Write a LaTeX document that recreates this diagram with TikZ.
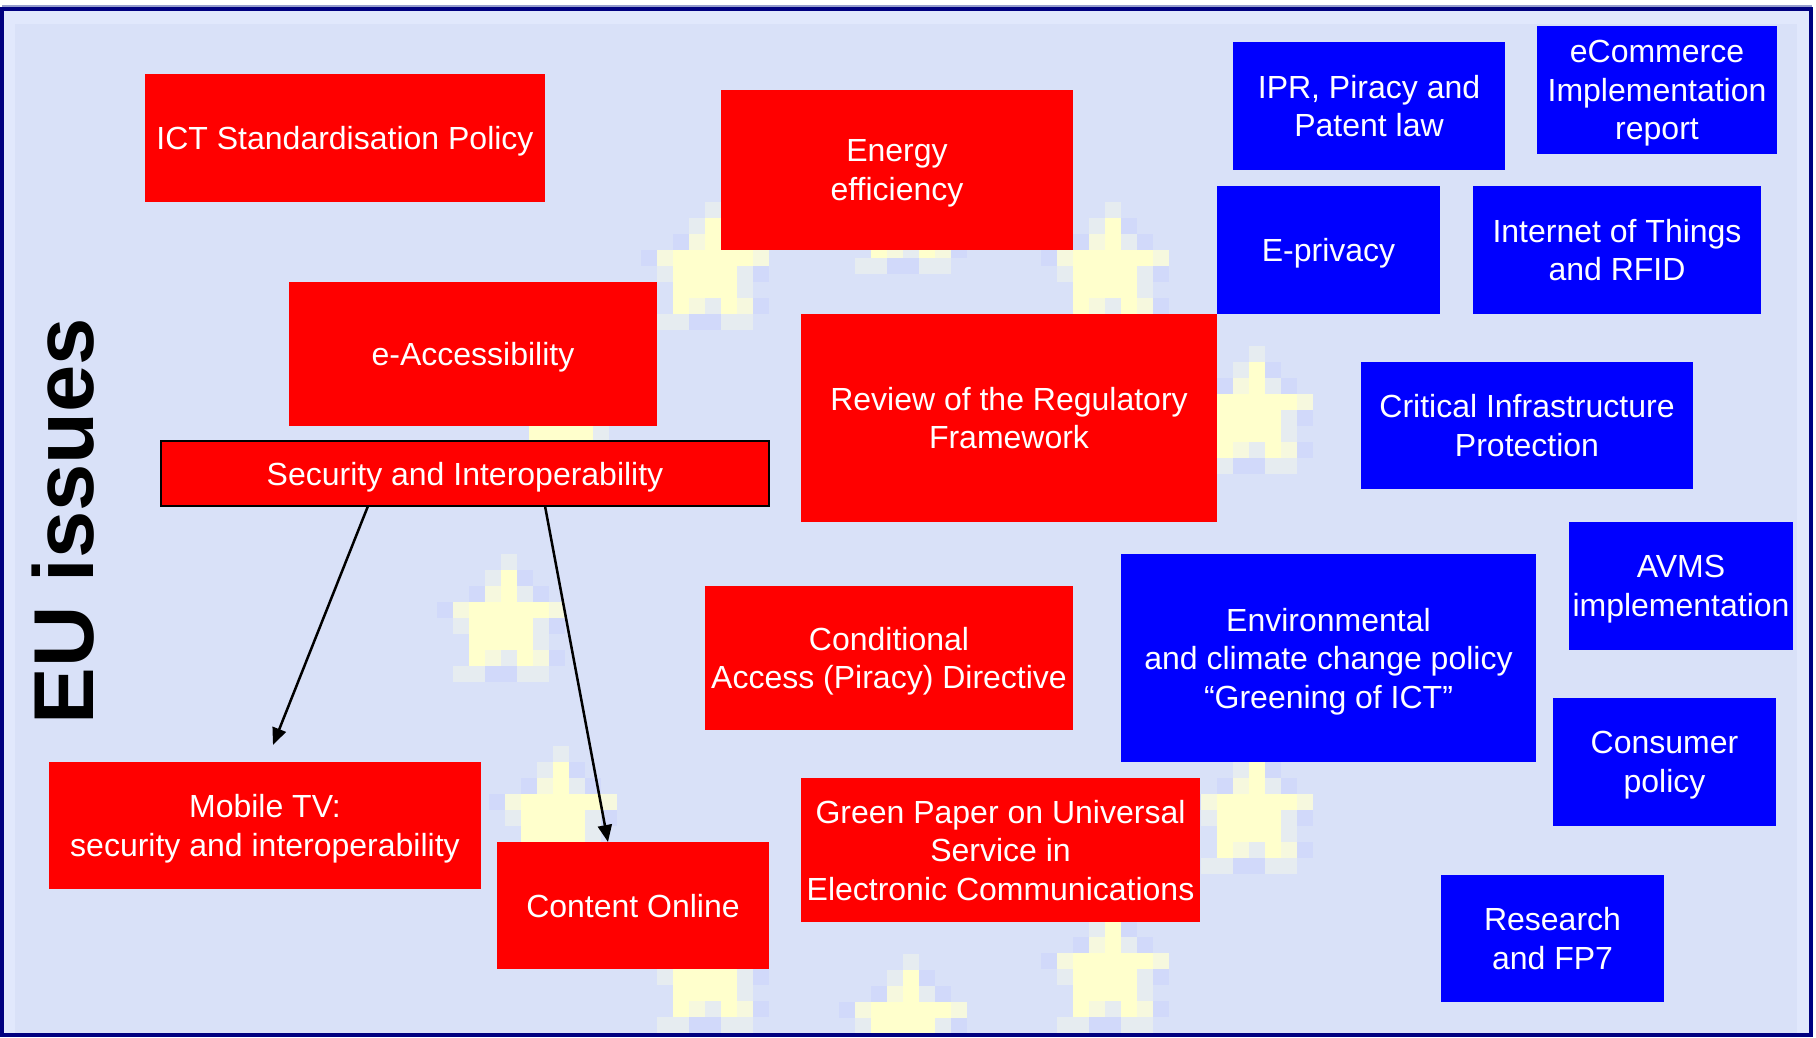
\documentclass[tikz,border=0pt]{standalone}
\usepackage{fontspec}
\setmainfont{Liberation Sans}
\usetikzlibrary{arrows.meta,calc}
\definecolor{bgl}{RGB}{217,225,248}
\definecolor{bgedge}{RGB}{225,232,252}
\definecolor{navyframe}{RGB}{0,0,128}
\definecolor{shadowline}{RGB}{150,158,205}
\definecolor{st0}{RGB}{209,217,250}
\definecolor{st1}{RGB}{230,236,240}
\definecolor{st2}{RGB}{246,248,222}
\definecolor{st3}{RGB}{255,255,204}
\definecolor{boxred}{RGB}{255,0,0}
\definecolor{boxblue}{RGB}{0,0,255}
% last line without descender depth, so text is centred on cap height
\newcommand{\nodesc}[1]{\raisebox{0pt}[\height][0pt]{#1}}
\tikzset{
  lbl/.style={font=\fontsize{32}{38.5}\selectfont, text=white, align=center, inner sep=0pt, outer sep=0pt},
  redbox/.style={lbl, fill=boxred},
  bluebox/.style={lbl, fill=boxblue},
  conn/.style={draw=black, line width=2.5pt, -{Triangle[length=17pt,width=14pt]}},
  pics/eustar/.style={code={
    \foreach \cc/\rr/\kk in {-2/-1/0, 2/-1/0, -4/0/0, 3/1/0, -1/4/0, 0/4/0, 3/3/0, 1/-2/0,
      0/-3/1, -1/-2/1, 0/-2/3, -1/-1/2, 0/-1/3, 1/-1/1,
      -3/0/2, -2/0/3, -1/0/3, 0/0/3, 1/0/3, 2/0/3, 3/0/2,
      -3/1/1, -2/1/3, -1/1/3, 0/1/3, 1/1/3, 2/1/1,
      -2/2/3, -1/2/3, 0/2/3, 1/2/3, 2/2/1,
      -2/3/3, -1/3/2, 0/3/1, 1/3/3, 2/3/2,
      -3/4/1, -2/4/1, 1/4/1, 2/4/1}
      {\fill[st\kk] (\cc*16-8,\rr*16) rectangle ++(16,16);}
  }}
}
\begin{document}
\begin{tikzpicture}[x=1pt,y=-1pt]
\useasboundingbox (0,0) rectangle (1816,1038);
% background and frame
\fill[white] (0,0) rectangle (1816,1038);
\fill[bgedge] (3,10) rectangle (1810,1034);
\fill[bgl] (15,24) rectangle (1797,1034);
\begin{scope}
  \clip (4,11) rectangle (1809,1033);
  \foreach \sx/\sy in {713/250, 1113/250, 1257/394, 1313/602, 1257/794, 1113/953,
                       911/1002, 713/953, 561/794, 509/602, 569/394, 911/194}
    {\pic at (\sx,\sy) {eustar};}
\end{scope}
\draw[shadowline, line width=2pt] (2,6) -- (1812,6);
\draw[navyframe, line width=4pt] (2,9) rectangle (1811,1035);

% title
\node[rotate=90, font=\bfseries\fontsize{85}{100}\selectfont, inner sep=0pt] (eu) at (63,521) {EU issues};

% red boxes
\node[redbox, minimum width=400, minimum height=128] (ict) at (345,138) {\nodesc{ICT Standardisation Policy}};
\node[redbox, minimum width=352, minimum height=160] (ene) at (897,170) {Energy\\\nodesc{efficiency}};
\node[redbox, minimum width=368, minimum height=144] (eac) at (473,354) {\nodesc{e-Accessibility}};
\node[redbox, draw=black, line width=2.5pt, minimum width=608, minimum height=65] (sec) at (465,473.5) {\nodesc{Security and Interoperability}};
\node[redbox, minimum width=416, minimum height=208] (rev) at (1009,418) {Review of the Regulatory\\\nodesc{Framework}};
\node[redbox, minimum width=368, minimum height=144] (cad) at (889,658) {Conditional\\\nodesc{Access (Piracy) Directive}};
\node[redbox, minimum width=432, minimum height=127] (mob) at (265,825.5) {Mobile TV:\\\nodesc{security and interoperability}};
\node[redbox, minimum width=272, minimum height=127] (con) at (633,905.5) {\nodesc{Content Online}};
\node[redbox, minimum width=399, minimum height=144] (grp) at (1000.5,850) {Green Paper on Universal\\Service in\\\nodesc{Electronic Communications}};

% blue boxes
\node[bluebox, minimum width=272, minimum height=128] (ipr) at (1369,106) {IPR, Piracy and\\\nodesc{Patent law}};
\node[bluebox, minimum width=240, minimum height=128] (eco) at (1657,90) {eCommerce\\Implementation\\\nodesc{report}};
\node[bluebox, minimum width=223, minimum height=128] (epr) at (1328.5,250) {\nodesc{E-privacy}};
\node[bluebox, minimum width=288, minimum height=128] (iot) at (1617,250) {Internet of Things\\\nodesc{and RFID}};
\node[bluebox, minimum width=332, minimum height=127] (cip) at (1527,425.5) {Critical Infrastructure\\\nodesc{Protection}};
\node[bluebox, minimum width=224, minimum height=128] (avm) at (1681,586) {AVMS\\\nodesc{implementation}};
\node[bluebox, minimum width=415, minimum height=208] (env) at (1328.5,658) {Environmental\\and climate change policy\\\nodesc{“Greening of ICT”}};
\node[bluebox, minimum width=223, minimum height=128] (cns) at (1664.5,762) {Consumer\\\nodesc{policy}};
\node[bluebox, minimum width=223, minimum height=127] (res) at (1552.5,938.5) {Research\\\nodesc{and FP7}};

% connectors
\draw[conn] ($(sec.south)+(-97,0)$) -- ($(mob.north)+(8,-17)$);
\draw[conn] ($(sec.south)+(80,0)$) -- ($(con.north)+(-25,0)$);
\end{tikzpicture}
\end{document}
